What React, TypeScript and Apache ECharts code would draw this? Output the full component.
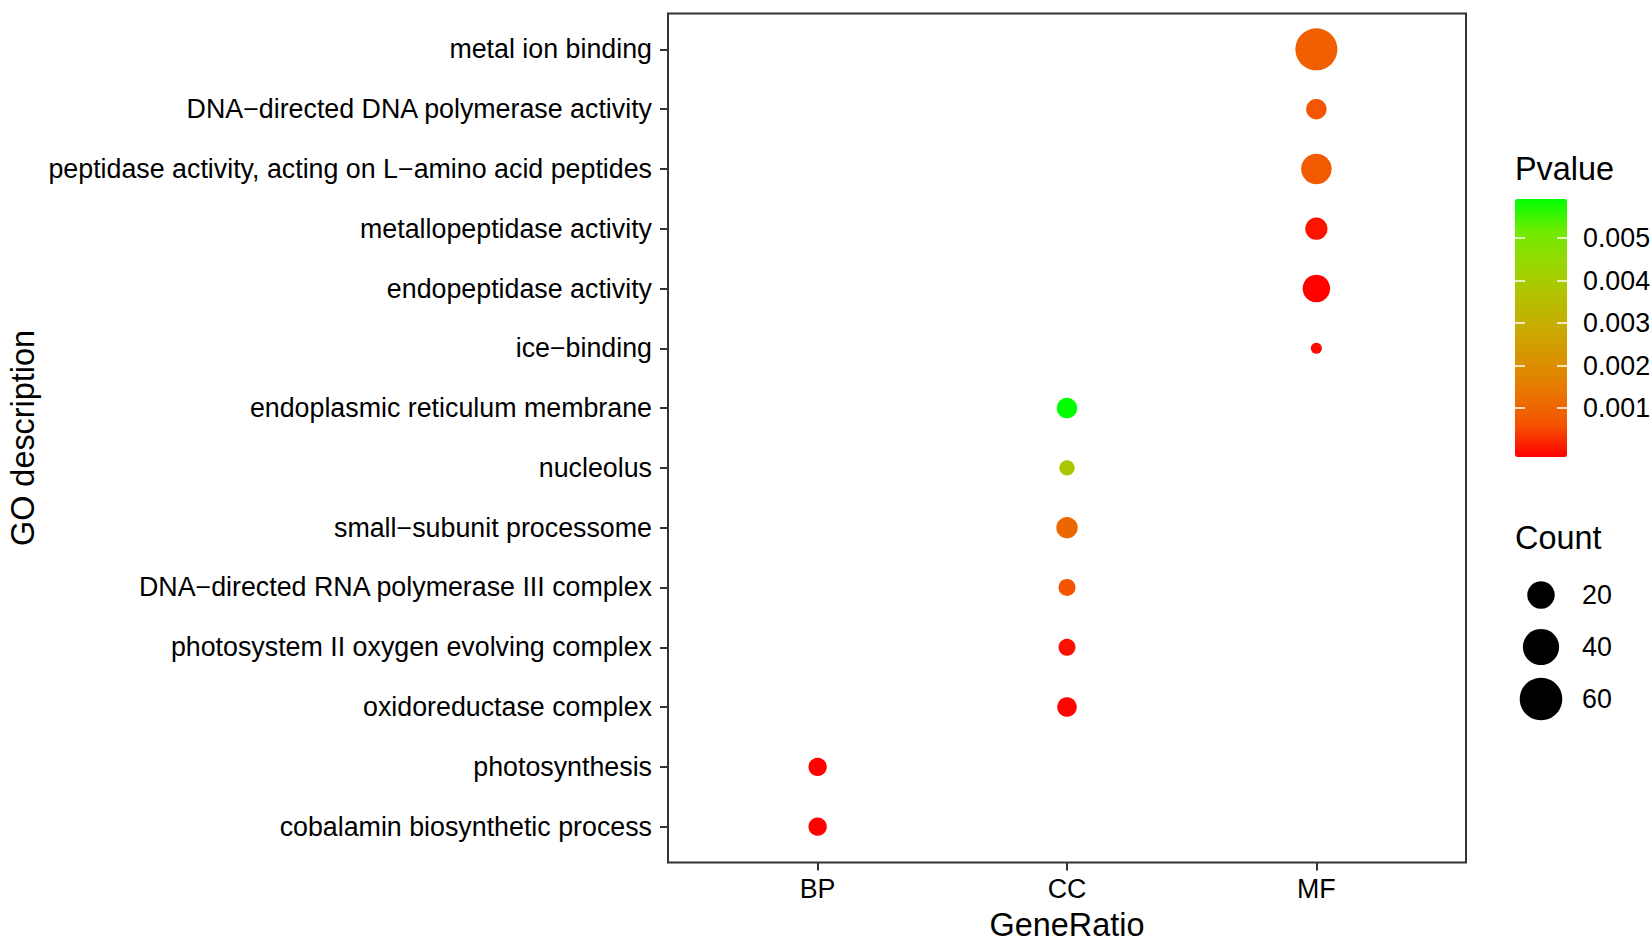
import React, { useEffect, useRef } from "react";
import * as echarts from "echarts";

// GO terms, listed from the bottom of the plot to the top
const terms = [
  "cobalamin biosynthetic process",
  "photosynthesis",
  "oxidoreductase complex",
  "photosystem II oxygen evolving complex",
  "DNA−directed RNA polymerase III complex",
  "small−subunit processome",
  "nucleolus",
  "endoplasmic reticulum membrane",
  "ice−binding",
  "endopeptidase activity",
  "metallopeptidase activity",
  "peptidase activity, acting on L−amino acid peptides",
  "DNA−directed DNA polymerase activity",
  "metal ion binding",
];
const ontology = ["BP", "BP", "CC", "CC", "CC", "CC", "CC", "CC", "MF", "MF", "MF", "MF", "MF", "MF"];
const counts = [8, 8, 9, 7, 7, 11, 6, 10, 5, 20, 12, 26, 10, 58];
const pvalues = [
  0.00001, 0.00002, 0.00005, 0.00015, 0.00075, 0.00115, 0.0038, 0.00577,
  0.00012, 0.00003, 0.00018, 0.00088, 0.0008, 0.00098,
];
const xCategories = ["BP", "CC", "MF"];
const pvalueTicks = [0.001, 0.002, 0.003, 0.004, 0.005];
const countBreaks = [20, 40, 60];
const gradient = ["#FF0000", "#F45300", "#E87600", "#DA9200", "#C8AB00", "#B3C100", "#98D700", "#70EB00", "#00FF00"];

const FONT = "'Liberation Sans', Arial, Helvetica, sans-serif";
const LABEL_SIZE = 26.8;
const TITLE_SIZE = 32.4;
const cMin = Math.min(...counts);
const cMax = Math.max(...counts);
const pMin = Math.min(...pvalues);
const pMax = Math.max(...pvalues);
const D_MIN = 11;
const D_MAX = 42;
const sizeOf = (c: number) => D_MIN + (D_MAX - D_MIN) * Math.sqrt(Math.max(0, c - cMin) / (cMax - cMin));

// colour bar extends half a bin beyond the data range (ggplot colourbar)
const barLo = -0.00015;
const barHi = 0.00592;

export default function App() {
  const ref = useRef<HTMLDivElement>(null);
  useEffect(() => {
    document.body.style.margin = "0";
    if (!ref.current) return;
    const chart = echarts.init(ref.current, undefined, { renderer: "svg" });
    const data = terms.map((_, i) => [xCategories.indexOf(ontology[i]), i, pvalues[i], counts[i]]);
    const tickStyle = { color: "#333", width: 2 };
    const option: any = {
      animation: false,
      backgroundColor: "#ffffff",
      grid: [
        {
          left: 668, top: 13.5, width: 798, height: 849, show: true, borderColor: "#333", borderWidth: 2,
          backgroundColor: "transparent", containLabel: false, outerBoundsMode: "none",
        },
        { left: 1515, top: 199, width: 52, height: 258, show: false, containLabel: false, outerBoundsMode: "none" },
      ],
      xAxis: [
        {
          type: "value", gridIndex: 0, min: -0.6, max: 2.6,
          splitLine: { show: false }, axisLine: { show: false, onZero: false },
          axisTick: { show: true, customValues: [0, 1, 2], length: 8, lineStyle: tickStyle },
          axisLabel: {
            customValues: [0, 1, 2], formatter: (v: number) => xCategories[Math.round(v)] ?? "",
            fontSize: LABEL_SIZE, color: "#000", margin: 13, fontFamily: FONT,
          },
          name: "GeneRatio", nameLocation: "middle", nameGap: 46,
          nameTextStyle: { fontSize: TITLE_SIZE, color: "#000", fontFamily: FONT },
        },
        { type: "value", gridIndex: 1, show: false, min: 0, max: 1 },
      ],
      yAxis: [
        {
          type: "value", gridIndex: 0, min: -0.6, max: 13.6,
          splitLine: { show: false }, axisLine: { show: false, onZero: false },
          axisTick: { show: true, customValues: terms.map((_, i) => i), length: 8, lineStyle: tickStyle },
          axisLabel: {
            customValues: terms.map((_, i) => i), formatter: (v: number) => terms[Math.round(v)] ?? "",
            fontSize: LABEL_SIZE, color: "#000", margin: 16, fontFamily: FONT,
          },
          name: "GO description", nameLocation: "middle", nameGap: 629, nameRotate: 90,
          nameTextStyle: { fontSize: TITLE_SIZE, color: "#000", fontFamily: FONT },
        },
        {
          type: "value", gridIndex: 1, position: "left", min: barLo, max: barHi, z: 10,
          splitLine: { show: false }, axisLine: { show: false, onZero: false },
          axisTick: { show: true, inside: true, customValues: pvalueTicks, length: 10, lineStyle: { color: "#ffffff", width: 1.5 } },
          axisLabel: { show: false },
        },
        {
          type: "value", gridIndex: 1, position: "right", min: barLo, max: barHi, z: 10,
          splitLine: { show: false }, axisLine: { show: false, onZero: false },
          axisTick: { show: true, inside: true, customValues: pvalueTicks, length: 10, lineStyle: { color: "#ffffff", width: 1.5 } },
          axisLabel: {
            customValues: pvalueTicks, formatter: (v: number) => v.toFixed(3),
            fontSize: LABEL_SIZE, color: "#000", margin: 16, fontFamily: FONT,
          },
        },
      ],
      visualMap: [
        {
          type: "continuous", show: true, min: barLo, max: barHi, seriesIndex: 1, dimension: 1,
          inRange: { color: gradient }, left: 1515, top: 199, itemWidth: 52, itemHeight: 258,
          calculable: false, padding: 0, hoverLink: false, z: 1, orient: "vertical",
        },
        {
          type: "continuous", show: false, min: pMin, max: pMax, seriesIndex: 0, dimension: 2,
          inRange: { color: gradient },
        },
      ],
      series: [
        {
          type: "scatter", xAxisIndex: 0, yAxisIndex: 0, data,
          symbol: "circle",
          symbolSize: (val: number[]) => sizeOf(val[3]),
          itemStyle: { opacity: 1 },
          emphasis: { disabled: true },
        },
        { type: "scatter", xAxisIndex: 1, yAxisIndex: 1, data: [], silent: true },
      ],
      graphic: [
        {
          type: "text", x: 1515, y: 168.6,
          style: { text: "Pvalue", fontSize: TITLE_SIZE, fontFamily: FONT, fill: "#000", align: "left", verticalAlign: "middle" },
        },
        {
          type: "text", x: 1515, y: 538,
          style: { text: "Count", fontSize: TITLE_SIZE, fontFamily: FONT, fill: "#000", align: "left", verticalAlign: "middle" },
        },
        ...countBreaks.map((c, i) => ({
          type: "circle", shape: { cx: 1541, cy: 595 + i * 52, r: sizeOf(c) / 2 }, style: { fill: "#000" },
        })),
        ...countBreaks.map((c, i) => ({
          type: "text", x: 1582, y: 595 + i * 52,
          style: { text: String(c), fontSize: LABEL_SIZE, fontFamily: FONT, fill: "#000", align: "left", verticalAlign: "middle" },
        })),
      ],
    };
    chart.setOption(option);
    return () => chart.dispose();
  }, []);
  return <div ref={ref} style={{ width: 1652, height: 942 }} />;
}
